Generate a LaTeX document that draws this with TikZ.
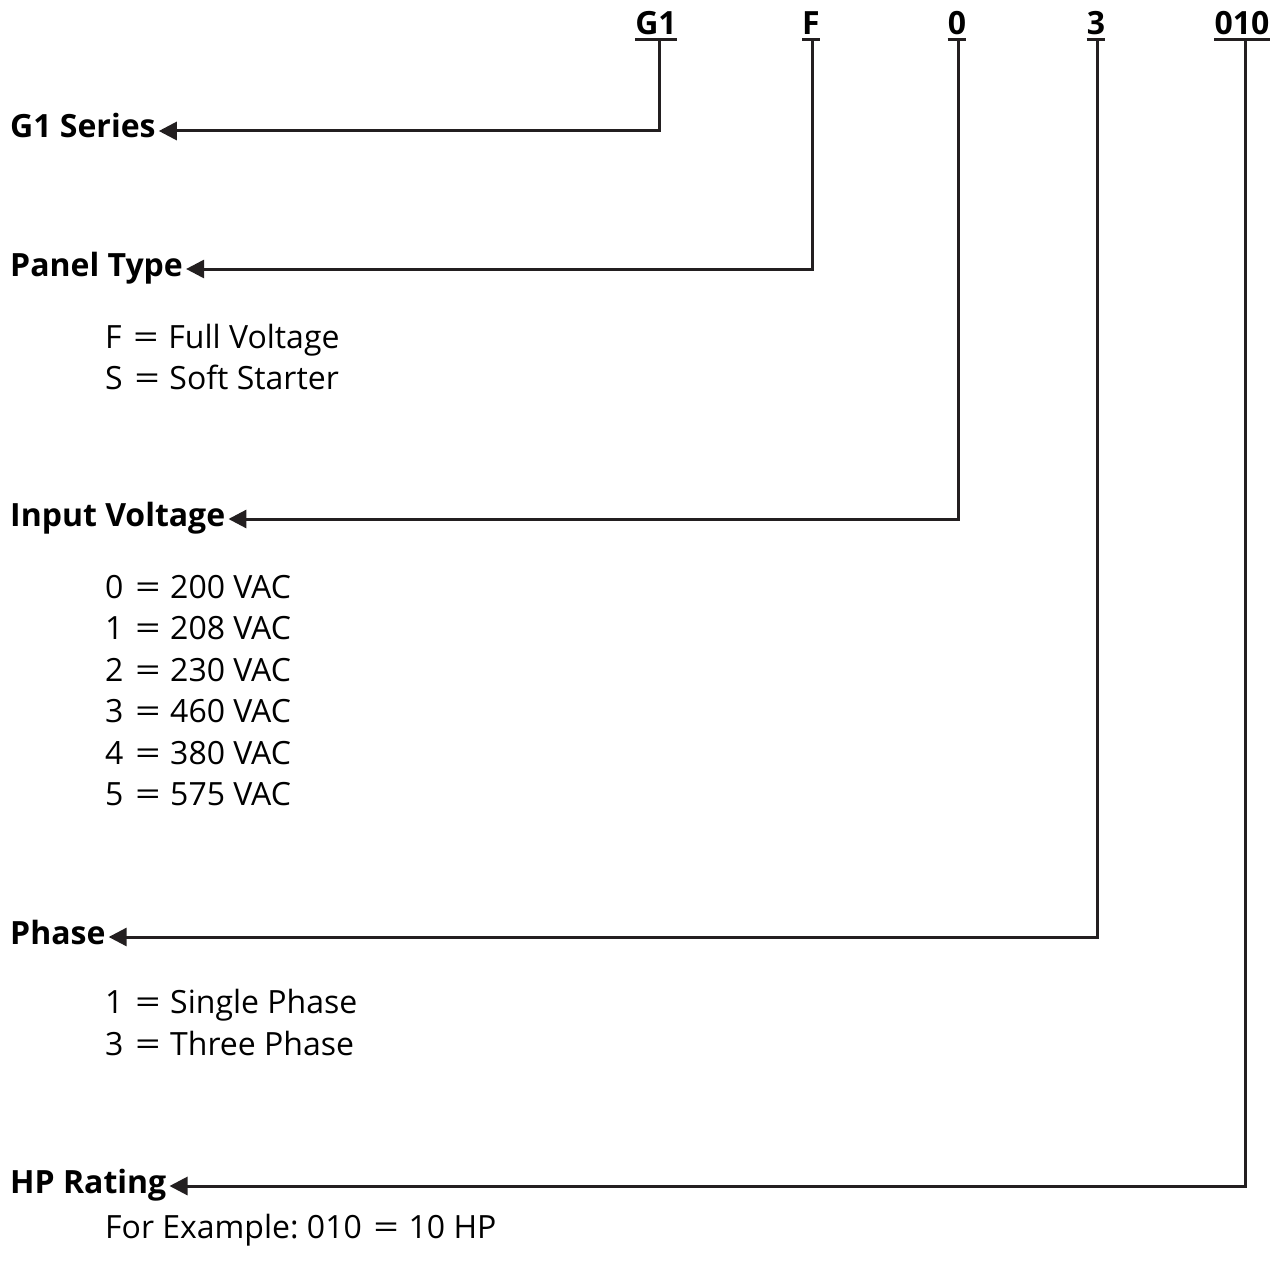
\documentclass[tikz,border=0pt]{standalone}
\usepackage{fontspec}
\setmainfont{Open Sans}
\usetikzlibrary{arrows.meta}
\frenchspacing
\definecolor{linec}{HTML}{231F20}
\newcommand{\eqs}{\hspace{0.36em}\scalebox{1.4}[1]{=}\hspace{0.3em}}
\tikzset{
  lbl/.style={font=\fontsize{32}{38}\selectfont\bfseries, inner xsep=3pt, inner ysep=0pt,
              text height=21pt, text depth=7pt, anchor=base west},
  code/.style={font=\fontsize{32}{38}\selectfont\bfseries, inner sep=0pt, anchor=base},
  item/.style={font=\fontsize{32}{38}\selectfont, inner sep=0pt, anchor=base west},
  conn/.style={line width=3pt, draw=linec, -{Triangle[length=18pt,width=18pt]}},
  uline/.style={line width=3pt, draw=linec}
}
\begin{document}
\begin{tikzpicture}[x=1pt,y=-1pt]
\useasboundingbox[fill=white] (0,0) rectangle (1279,1271);

% codes
\node[code] (cG) at (656,35) {G1};
\node[code] (cF) at (811,35) {F};
\node[code] (c0) at (957,35) {0};
\node[code] (c3) at (1096,35) {3};
\node[code] (cH) at (1242,35) {010};
\foreach \n/\x in {cG/659,cF/812,c0/958,c3/1097,cH/1245}{
  \draw[uline] ([yshift=-5pt]\n.base west) -- ([yshift=-5pt]\n.base east);
  \coordinate (\n-d) at (\x,40);
}

% labels
\node[lbl] (lG) at (7,138) {G1 Series};
\node[lbl] (lF) at (7,276) {Panel Type};
\node[lbl] (l0) at (7,526) {Input Voltage};
\node[lbl] (l3) at (7,944) {Phase};
\node[lbl] (lH) at (7,1193) {HP Rating};

% connectors
\draw[conn] (cG-d) |- (lG.east);
\draw[conn] (cF-d) |- (lF.east);
\draw[conn] (c0-d) |- (l0.east);
\draw[conn] (c3-d) |- (l3.east);
\draw[conn] (cH-d) |- (lH.east);

% items
\node[item] (f1) at (105,348) {F\eqs Full Voltage};
\node[item] (f2) at (105,389) {S\eqs Soft Starter};
\node[item] (v0) at (105,598) {0\eqs 200 VAC};
\node[item] (v1) at (105,639.5) {1\eqs 208 VAC};
\node[item] (v2) at (105,681) {2\eqs 230 VAC};
\node[item] (v3) at (105,722.5) {3\eqs 460 VAC};
\node[item] (v4) at (105,764) {4\eqs 380 VAC};
\node[item] (v5) at (105,805.5) {5\eqs 575 VAC};
\node[item] (p1) at (105,1013) {1\eqs Single Phase};
\node[item] (p3) at (105,1055) {3\eqs Three Phase};
\node[item] (h1) at (105,1238) {For Example: 010\eqs 10 HP};
\end{tikzpicture}
\end{document}
